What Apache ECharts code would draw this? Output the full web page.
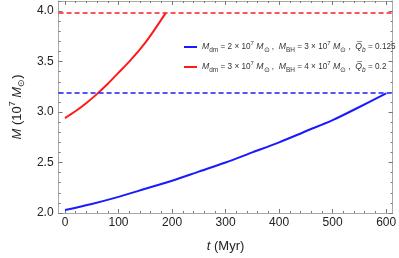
<!DOCTYPE html>
<html><head><meta charset="utf-8">
<script src="https://cdn.jsdelivr.net/npm/echarts@6/dist/echarts.min.js"></script>
<style>html,body{margin:0;padding:0;background:#fff}#c{width:399px;height:258px}</style>
</head><body><div id="c"></div>
<script>
// ---- data ----
const tBlue = [0, 50, 100, 150, 200, 250, 300, 350, 400, 450, 500, 550, 600];
const mBlue = [2.03, 2.09, 2.16, 2.24, 2.32, 2.41, 2.50, 2.60, 2.70, 2.81, 2.92, 3.05, 3.185];
const tRed = [0, 20, 40, 60, 80, 100, 120, 140, 160, 188];
const mRed = [2.94, 3.01, 3.09, 3.18, 3.28, 3.39, 3.50, 3.62, 3.76, 3.98];
const blueLimit = 3.19;
const redLimit = 3.98;
const xMajorTicks = [0, 100, 200, 300, 400, 500, 600];
const xMinorTicks = [0, 20, 40, 60, 80, 100, 120, 140, 160, 180, 200, 220, 240, 260, 280, 300, 320, 340, 360, 380, 400, 420, 440, 460, 480, 500, 520, 540, 560, 580, 600];
const yMajorTicks = [2.0, 2.5, 3.0, 3.5, 4.0];
const yMinorTicks = [2.0, 2.1, 2.2, 2.3, 2.4, 2.5, 2.6, 2.7, 2.8, 2.9, 3.0, 3.1, 3.2, 3.3, 3.4, 3.5, 3.6, 3.7, 3.8, 3.9, 4.0, 4.1];
const legendBlue = '{i|M}{sub|dm}{n| = 2 × 10}{sup|7}{i| M}{sub|⊙}{n| ,  }{i|M}{sub|BH}{n| = 3 × 10}{sup|7}{i| M}{sub|⊙}{n| ,  }{i|Q\u0305}{isub|b}{n| = 0.125}';
const legendRed = '{i|M}{sub|dm}{n| = 3 × 10}{sup|7}{i| M}{sub|⊙}{n| ,  }{i|M}{sub|BH}{n| = 4 × 10}{sup|7}{i| M}{sub|⊙}{n| ,  }{i|Q\u0305}{isub|b}{n| = 0.2}';

const xMin = -12, xMax = 612, yMin = 2.0, yMax = 4.1;
const FONT = 'Liberation Sans, Arial, sans-serif';
const frameColor = '#a8a8a8';
const tickColor = '#777';

function xAx(pos, vals, len, labels, line) {
  return {
    type: 'value', position: pos, min: xMin, max: xMax,
    axisLine: {show: line, onZero: false, lineStyle: {color: frameColor, width: 1}},
    axisTick: {show: true, inside: true, length: len, customValues: vals, lineStyle: {color: tickColor, width: 1}},
    axisLabel: {show: labels, customValues: vals, margin: 4, color: '#222', fontSize: 12, fontFamily: FONT, formatter: v => String(v)},
    splitLine: {show: false}
  };
}
function yAx(pos, vals, len, labels, line) {
  return {
    type: 'value', position: pos, min: yMin, max: yMax,
    axisLine: {show: line, onZero: false, lineStyle: {color: frameColor, width: 1}},
    axisTick: {show: true, inside: true, length: len, customValues: vals, lineStyle: {color: tickColor, width: 1}},
    axisLabel: {show: labels, customValues: vals, margin: 5, color: '#222', fontSize: 12, fontFamily: FONT, formatter: v => v.toFixed(1)},
    splitLine: {show: false}
  };
}

const xAxes = [xAx('bottom', xMajorTicks, 4, true, true), xAx('bottom', xMinorTicks, 2, false, false),
               xAx('top', xMajorTicks, 4, false, true), xAx('top', xMinorTicks, 2, false, false)];
xAxes[0].name = '{i|t}{n| (Myr)}';
xAxes[0].nameLocation = 'middle';
xAxes[0].nameGap = 27;
xAxes[0].nameTextStyle = {rich: {i: {fontStyle: 'italic', fontSize: 13, fontFamily: FONT, color: '#222'}, n: {fontSize: 13, fontFamily: FONT, color: '#222'}}};

const yAxes = [yAx('left', yMajorTicks, 4, true, true), yAx('left', yMinorTicks, 2, false, false),
               yAx('right', yMajorTicks, 4, false, true), yAx('right', yMinorTicks, 2, false, false)];
yAxes[0].name = '{i|M}{n| (10}{sup|7}{i| M}{sub|⊙}{n|)}';
yAxes[0].nameLocation = 'middle';
yAxes[0].nameRotate = 90;
yAxes[0].nameGap = 29;
yAxes[0].nameTextStyle = {rich: {
  i: {fontStyle: 'italic', fontSize: 13, fontFamily: FONT, color: '#222', lineHeight: 18},
  n: {fontSize: 13, fontFamily: FONT, color: '#222', lineHeight: 18},
  sup: {fontSize: 9, fontFamily: FONT, color: '#222', verticalAlign: 'top', lineHeight: 10},
  sub: {fontSize: 9, fontFamily: FONT, color: '#222', verticalAlign: 'bottom', lineHeight: 10}
}};

const legendRich = {
  n: {fontSize: 8.2, fontFamily: FONT, color: '#333', lineHeight: 14},
  i: {fontSize: 8.7, fontStyle: 'italic', fontFamily: FONT, color: '#333', lineHeight: 14},
  sup: {fontSize: 6, fontFamily: FONT, color: '#333', verticalAlign: 'top', lineHeight: 8},
  sub: {fontSize: 6.5, fontFamily: FONT, color: '#333', verticalAlign: 'bottom', lineHeight: 8},
  isub: {fontSize: 6.5, fontStyle: 'italic', fontFamily: FONT, color: '#333', verticalAlign: 'bottom', lineHeight: 8}
};

const chart = echarts.init(document.getElementById('c'), null, {renderer: 'canvas'});
chart.setOption({
  animation: false,
  backgroundColor: '#fff',
  grid: {left: 50, right: 5, top: 1, bottom: 44, containLabel: false},
  xAxis: xAxes,
  yAxis: yAxes,
  legend: {
    orient: 'vertical', left: 179, top: 35, itemGap: 6,
    itemWidth: 13, itemHeight: 2, icon: 'rect',
    data: ['blue', 'red'],
    formatter: name => name === 'blue' ? legendBlue : legendRed,
    textStyle: {rich: legendRich}
  },
  series: [
    {
      name: 'blue', type: 'line', xAxisIndex: 0, yAxisIndex: 0, smooth: 0.3, symbol: 'none',
      data: tBlue.map((t, i) => [t, mBlue[i]]),
      lineStyle: {color: '#1a1aff', width: 2}, itemStyle: {color: '#1a1aff'},
      markLine: {silent: true, symbol: 'none', label: {show: false},
        lineStyle: {color: '#1a1aff', type: [5, 3], width: 1.6}, data: [{yAxis: blueLimit}]}
    },
    {
      name: 'red', type: 'line', xAxisIndex: 0, yAxisIndex: 0, smooth: 0.3, symbol: 'none',
      data: tRed.map((t, i) => [t, mRed[i]]),
      lineStyle: {color: '#ff1a1a', width: 2}, itemStyle: {color: '#ff1a1a'},
      markLine: {silent: true, symbol: 'none', label: {show: false},
        lineStyle: {color: '#ff1a1a', type: [5, 3], width: 1.6}, data: [{yAxis: redLimit}]}
    }
  ]
});
</script></body></html>
